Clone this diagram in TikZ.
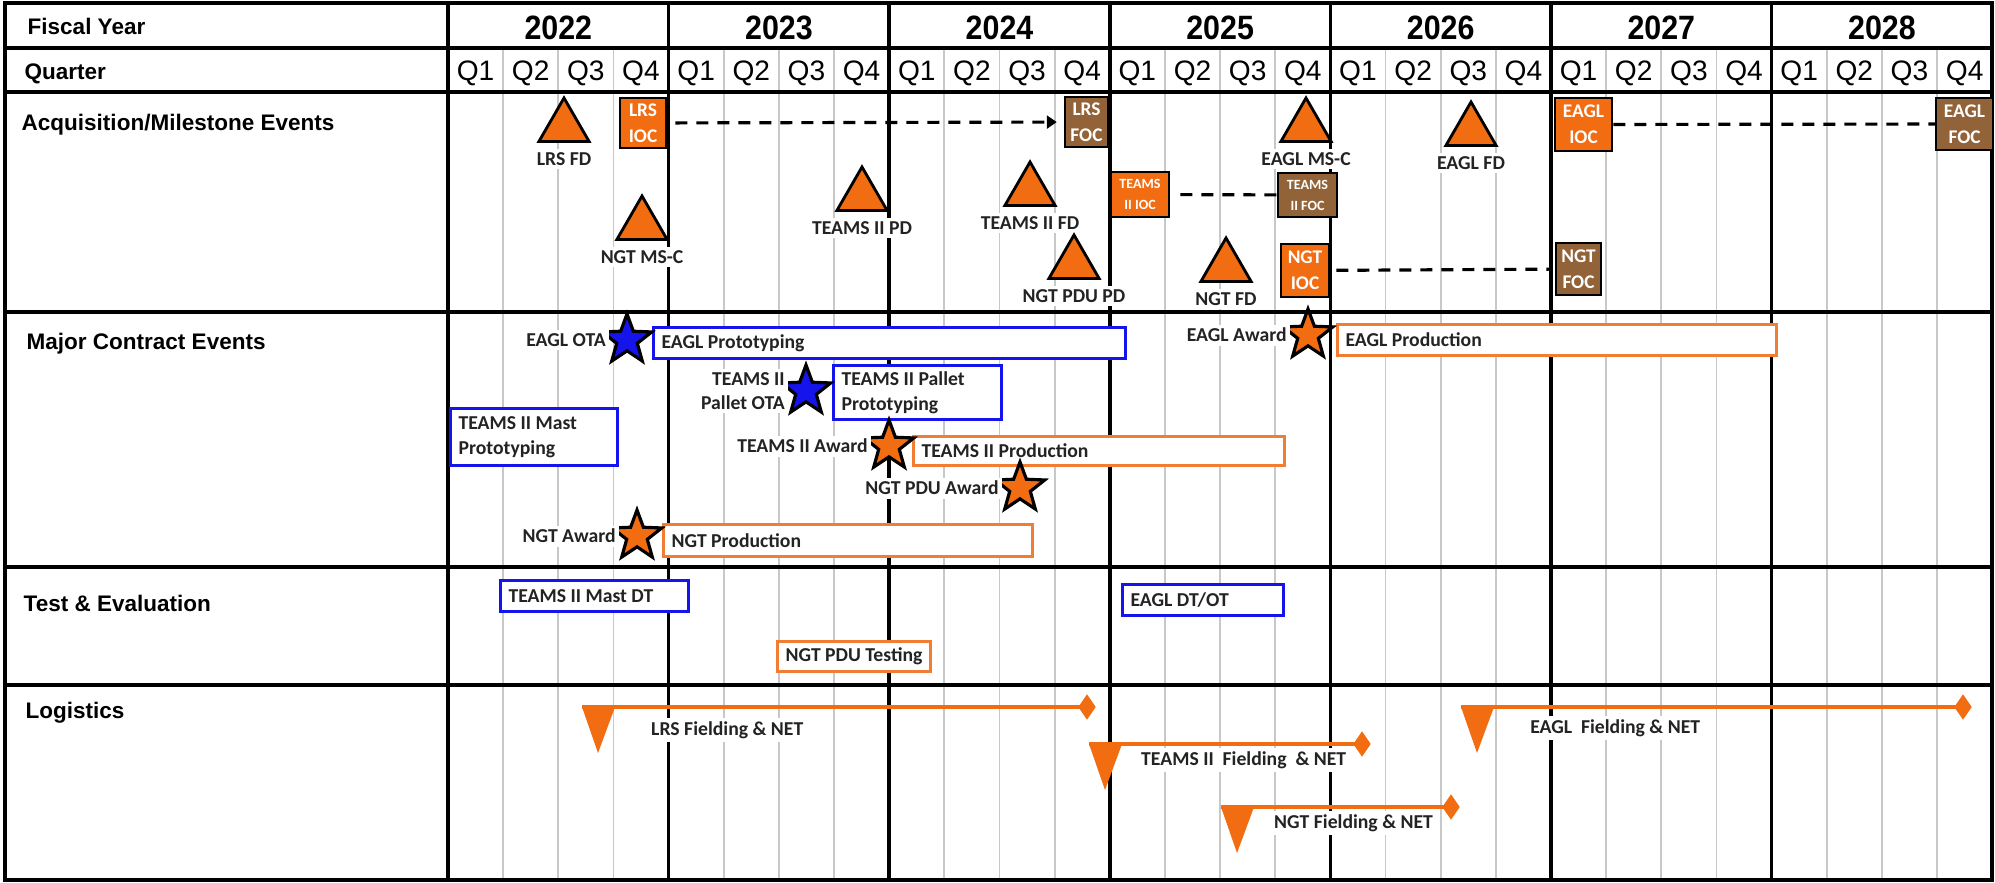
\documentclass[tikz,border=0pt]{standalone}
\usepackage{fontspec}
\setmainfont{Liberation Sans}
\newfontfamily\narrowsans[FakeStretch=0.9]{Liberation Sans}
\newfontfamily\evfont{Carlito}
\usetikzlibrary{positioning,shapes.geometric,arrows.meta}
\definecolor{msorange}{RGB}{242,108,18}
\definecolor{msbrown}{RGB}{146,99,56}
\definecolor{msblue}{RGB}{20,20,235}
\definecolor{barorange}{RGB}{240,125,50}
\definecolor{gridgray}{RGB}{200,200,200}
\definecolor{evtext}{RGB}{35,35,35}
\begin{document}
\begin{tikzpicture}[x=0.01cm, y=-0.01cm,
	rowlabel/.style={font=\bfseries\fontsize{6.4}{7.7}\selectfont, anchor=base west, inner sep=0pt},
	yearlabel/.style={font=\narrowsans\bfseries\fontsize{9.6}{11.5}\selectfont, inner sep=0pt},
	qlabel/.style={font=\fontsize{8}{9.6}\selectfont, inner sep=0pt},
	evlabel/.style={font=\evfont\bfseries\fontsize{5.6}{6.8}\selectfont, text=evtext, fill=white, inner sep=1pt},
	milestone/.style={regular polygon, regular polygon sides=3, minimum size=0.58cm, inner sep=0pt, fill=msorange, draw=black, line width=0.8pt},
	ioc/.style={fill=msorange, draw=black, line width=0.7pt, text=white, align=center, inner sep=0pt, font=\evfont\bfseries\fontsize{5.5}{7.4}\selectfont},
	foc/.style={ioc, fill=msbrown},
	smallioc/.style={ioc, font=\evfont\bfseries\fontsize{4}{6}\selectfont},
	smallfoc/.style={smallioc, fill=msbrown},
	award/.style={star, star points=5, star point ratio=2.4, minimum size=0.52cm, inner sep=0pt, draw=black, line width=0.9pt, fill=msorange},
	ota/.style={award, fill=msblue},
	bluebar/.style={draw=msblue, line width=0.9pt, fill=white, anchor=north west, inner xsep=0.08cm, inner ysep=0pt, align=flush left, text=evtext, font=\evfont\bfseries\fontsize{5.6}{7.3}\selectfont},
	orangebar/.style={bluebar, draw=barorange},
	fielding/.style={draw=msorange, line width=1.4pt},
	fieldend/.style={diamond, fill=msorange, minimum width=0.18cm, minimum height=0.26cm, inner sep=0pt},
	plan/.style={dash pattern=on 0.12cm off 0.09cm, line width=0.9pt}]
	\useasboundingbox (0,0) rectangle (1995,882);
	\foreach \y in {0,...,6} { \foreach \q in {1,2,3} {
		\draw[gridgray, line width=0.5pt] (448+\y*220.6+\q*55.15,48) -- ++(0,832);
	} }
	\foreach \y in {0,...,6} { \draw[line width=1pt] (448+\y*220.6,3) -- ++(0,877); }
	\foreach \h in {48,92,312,567,685} { \draw[line width=1.1pt] (5,\h) -- (1992,\h); }
	\draw[line width=1.2pt] (5,3) rectangle (1992,880);

	\node[rowlabel] (fiscal) at (27,35) {Fiscal Year};
	\node[rowlabel] (quarter) at (24,80) {Quarter};
	\node[rowlabel] (acq) at (21,131) {Acquisition/Milestone Events};
	\node[rowlabel] (contract) at (26,349) {Major Contract Events};
	\node[rowlabel] (test) at (23,611) {Test \& Evaluation};
	\node[rowlabel] (logistics) at (25,718) {Logistics};
	\foreach \y/\t in {0/2022, 1/2023, 2/2024, 3/2025, 4/2026, 5/2027, 6/2028} {
		\node[yearlabel] (fy\t) at (558.3+\y*220.6,27.5) {\t};
		\foreach \q in {1,...,4} { \node[qlabel] (q\t\q) at (448+\y*220.6+\q*55.15-27.6,73) {Q\q}; }
	}

	\foreach \n/\x/\y/\t in {lrsfd/564/127/LRS FD, ngtmsc/642/225/NGT MS-C, teamspd/862/196/TEAMS II PD,
		teamsfd/1030/191/TEAMS II FD, ngtpdupd/1074/264/NGT PDU PD, eaglmsc/1306/127/EAGL MS-C,
		ngtfd/1226/267/NGT FD, eaglfd/1471/131/EAGL FD} {
		\node[milestone] (\n) at (\x,\y) {};
		\node[evlabel, below=0.05cm of \n] (\n txt) {\t};
	}
	\foreach \n/\s/\x/\y/\w/\h/\t in {lrsioc/ioc/643/123/46/50/{LRS\\IOC}, lrsfoc/foc/1086.5/122/43/50/{LRS\\FOC},
		teamsioc/smallioc/1140/194.5/58/45/{TEAMS\\II IOC}, teamsfoc/smallfoc/1307.5/195/59/44/{TEAMS\\II FOC},
		ngtioc/ioc/1305/270.5/48/53/{NGT\\IOC}, ngtfoc/foc/1578.5/269/45/52/{NGT\\FOC},
		eaglioc/ioc/1583.5/124.5/57/53/{EAGL\\IOC}, eaglfoc/foc/1964.5/124/57/52/{EAGL\\FOC}} {
		\pgfmathsetmacro\bw{\w/100}
		\pgfmathsetmacro\bh{\h/100}
		\node[\s, minimum width=\bw cm, minimum height=\bh cm] (\n) at (\x,\y) {\t};
	}
	\draw[plan, -{Triangle[length=0.1cm, width=0.13cm]}, shorten <=0.08cm, shorten >=0.07cm] (lrsioc) -- (lrsfoc);
	\draw[plan, shorten <=0.1cm] (teamsioc) -- (teamsfoc);
	\draw[plan, shorten <=0.06cm, shorten >=0.06cm] (ngtioc) -- (ngtfoc);
	\draw[plan] (eaglioc) -- (eaglfoc);

	\foreach \n/\s/\x/\y/\w/\h/\t in {eaglproto/bluebar/652/326/472/31/{EAGL Prototyping},
		mastproto/bluebar/449/407/167/57/{TEAMS II Mast\\Prototyping},
		palletproto/bluebar/832/364/168/54/{TEAMS II Pallet\\Prototyping},
		teamsprod/orangebar/912/435/371/29/{TEAMS II Production},
		ngtprod/orangebar/662/523/369/32/{NGT Production},
		eaglprod/orangebar/1336/323/439/31/{EAGL Production},
		mastdt/bluebar/499/579/188/31/{TEAMS II Mast DT},
		eagldtot/bluebar/1121/583/161/31/{EAGL DT/OT},
		pdutest/orangebar/776/640/153/30/{NGT PDU Testing}} {
		\pgfmathsetmacro\tw{\w/100-0.16}
		\pgfmathsetmacro\bh{\h/100}
		\node[\s, text width=\tw cm, minimum height=\bh cm] (\n) at (\x,\y) {\t};
	}
	\foreach \n/\s/\x/\y/\t in {eaglota/ota/627/340/EAGL OTA, teamsaward/award/889/446/TEAMS II Award,
		ngtpduaward/award/1020/488/NGT PDU Award, ngtaward/award/637/536/NGT Award,
		eaglaward/award/1308/335/EAGL Award} {
		\node[\s] (\n) at (\x,\y) {};
		\node[evlabel, left=0pt of \n] (\n txt) {\t};
	}
	\node[ota] (palletota) at (806,391) {};
	\node[evlabel, align=right, left=0pt of palletota] (palletotatxt) {TEAMS II\\Pallet OTA};

	\foreach \n/\xa/\xb/\yl/\xt/\yt/\t in {lrs/582/1087/707/647/730/{LRS Fielding \& NET},
		teams/1089/1362/744/1137/760/{TEAMS II\ \ Fielding\ \ \& NET},
		ngt/1221/1451/807/1270/823/{NGT Fielding \& NET},
		eagl/1461/1963/707/1526/728/{EAGL\ \ Fielding \& NET}} {
		\coordinate (\n-start) at (\xa,\yl);
		\node[fieldend] (\n-end) at (\xb,\yl) {};
		\draw[fielding] (\n-start) -- (\n-end.center);
		\fill[msorange] (\n-start) -- ++(33,0) -- ++(-17,46) -- cycle;
		\node[evlabel, anchor=west] (\n-net) at (\xt,\yt) {\t};
	}
\end{tikzpicture}
\end{document}
